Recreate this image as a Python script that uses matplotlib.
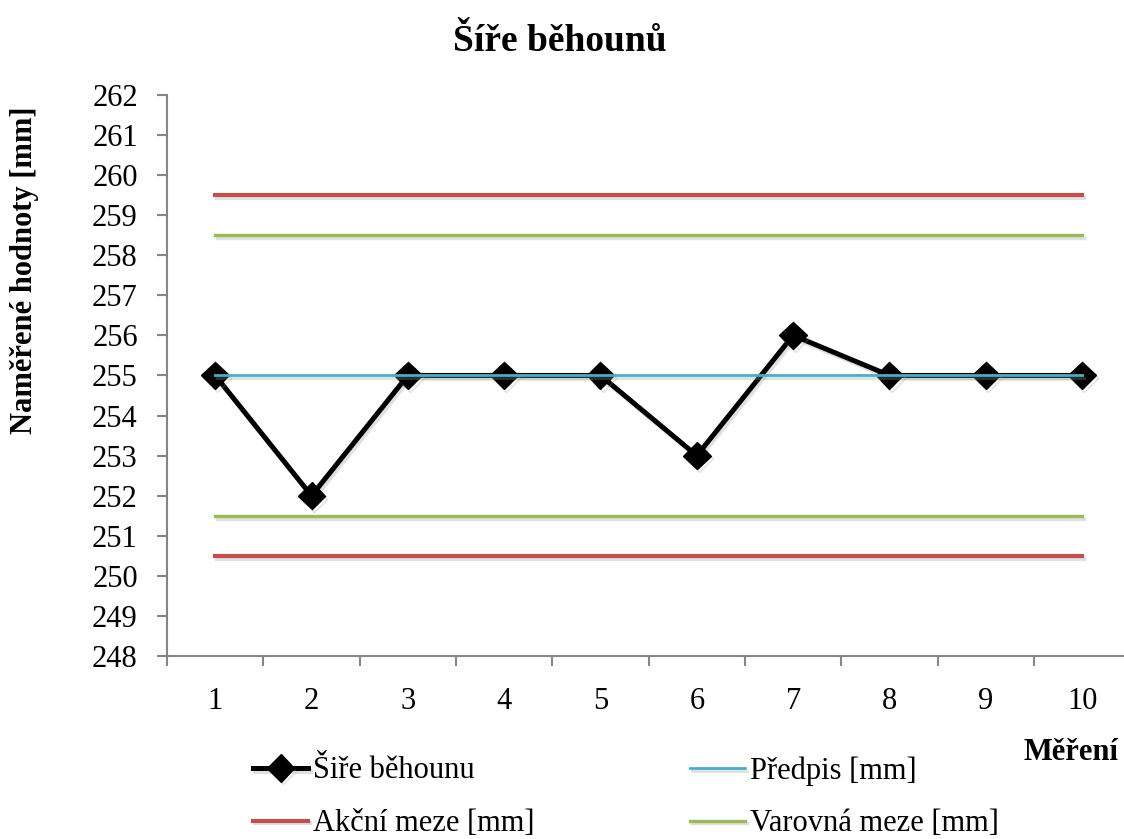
import matplotlib
matplotlib.use("Agg")
import matplotlib.pyplot as plt
import matplotlib.patheffects as pe

plt.rcParams["font.family"] = ["Liberation Serif", "DejaVu Serif"]

# data
mereni = [1, 2, 3, 4, 5, 6, 7, 8, 9, 10]
sire = [255, 252, 255, 255, 255, 253, 256, 255, 255, 255]
predpis = [255] * 10
akcni_horni = [259.5] * 10
akcni_dolni = [250.5] * 10
varovna_horni = [258.5] * 10
varovna_dolni = [251.5] * 10

red = "#C0504D"
green = "#9BBB59"
blue = "#4BACC6"
shadow = [pe.SimpleLineShadow(offset=(1.5, -2), shadow_color="#999999", alpha=0.3), pe.Normal()]

fig = plt.figure(figsize=(11.24, 8.39), dpi=100)
ax = fig.add_axes([0.1486, 0.218, 0.857, 0.669])

# data line under the limit lines (as in the original)
ax.plot(mereni, sire, color="black", lw=3.6, marker="D", ms=14, path_effects=shadow,
        label="Šiře běhounu", zorder=2)
ax.plot(mereni, akcni_horni, color=red, lw=3, path_effects=shadow, label="Akční meze [mm]", zorder=3)
ax.plot(mereni, akcni_dolni, color=red, lw=3, path_effects=shadow, zorder=3)
ax.plot(mereni, predpis, color=blue, lw=2, path_effects=shadow, label="Předpis [mm]", zorder=3)
ax.plot(mereni, varovna_horni, color=green, lw=2.4, path_effects=shadow, label="Varovná meze [mm]", zorder=3)
ax.plot(mereni, varovna_dolni, color=green, lw=2.4, path_effects=shadow, zorder=3)

ax.set_xlim(0.5, 10.5)
ax.set_ylim(248, 262)
ax.set_yticks(range(248, 263))
ax.set_xticks(mereni)
ax.set_xticks([i + 0.5 for i in range(0, 10)], minor=True)
ax.tick_params(axis="x", which="major", length=0, pad=22, labelsize=22)
ax.tick_params(axis="x", which="minor", length=7, width=1.5, color="#868686", direction="out")
ax.tick_params(axis="y", length=7, width=1.5, color="#868686", direction="out", labelsize=22, pad=14)

for s in ["top", "right"]:
    ax.spines[s].set_visible(False)
for s in ["left", "bottom"]:
    ax.spines[s].set_color("#868686")
    ax.spines[s].set_linewidth(1.5)

fig.text(0.498, 0.95, "Šíře běhounů", ha="center", va="center", fontsize=27, fontweight="bold")
fig.text(25 / 1124, 1 - 270 / 839, "Naměřené hodnoty [mm]", rotation=90, ha="center", va="center",
         fontsize=22, fontweight="bold")
fig.text(0.995, 1 - 752 / 839, "Měření", ha="right", va="center", fontsize=22, fontweight="bold")

h, l = ax.get_legend_handles_labels()
fig.legend(h, l, ncol=2, loc="upper left", bbox_to_anchor=(253 / 1124, 1 - 756 / 839),
           frameon=False, fontsize=22, handlelength=1.8, handletextpad=0.15,
           columnspacing=5.1, labelspacing=0.78, borderpad=0, borderaxespad=0)

fig.savefig("out.png", dpi=100)
